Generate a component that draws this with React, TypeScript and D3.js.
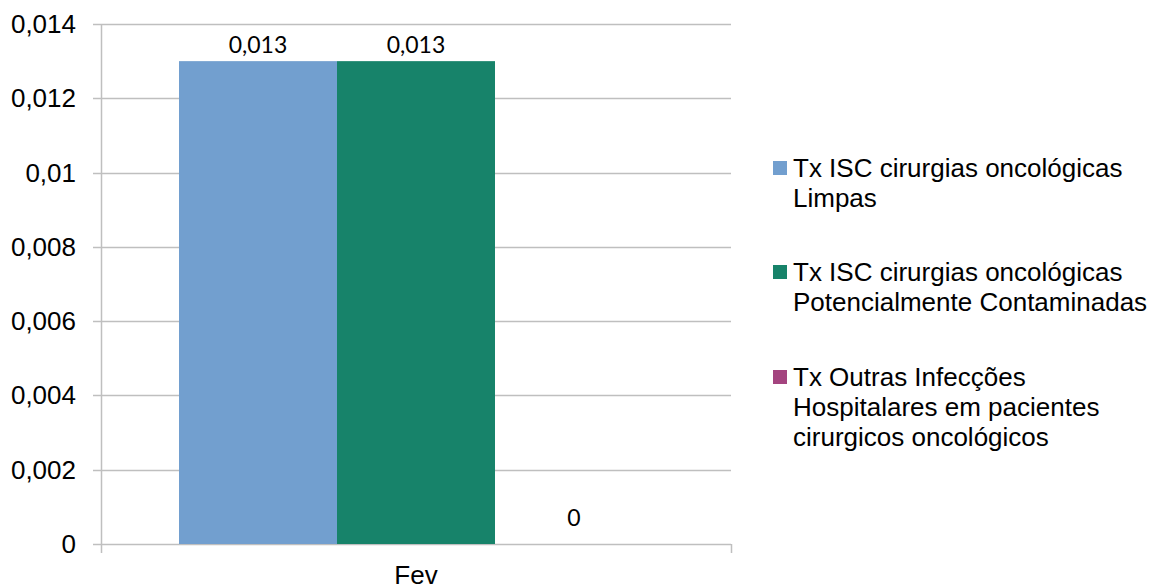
import React from "react";
import * as d3 from "d3";

const categories = ["Fev"];
const seriesNames = [
  ["Tx ISC cirurgias oncológicas", "Limpas"],
  ["Tx ISC cirurgias oncológicas", "Potencialmente Contaminadas"],
  ["Tx Outras Infecções", "Hospitalares em pacientes", "cirurgicos oncológicos"],
];
const seriesValues = [0.013, 0.013, 0];
const seriesLabels = ["0,013", "0,013", "0"];
const colors = ["#729fcf", "#17836a", "#a4447f"];
const yTicks = [0, 0.002, 0.004, 0.006, 0.008, 0.01, 0.012, 0.014];

const W = 1161, H = 586;
const left = 101, right = 731, top = 24, bottom = 544;

export default function App() {
  const y = d3.scaleLinear().domain([0, 0.014]).range([bottom, top]);
  const x0 = d3.scaleBand().domain(categories).range([left, right]).paddingInner(0).paddingOuter(0);
  const bandInner = 474;
  const x1 = d3.scaleBand().domain(["0", "1", "2"]).range([0, bandInner]);
  const fmt = (v: number) => (v === 0 ? "0" : String(v).replace(".", ","));
  const font = "'Liberation Sans', Arial, sans-serif";
  const fs = 26;
  return (
    <svg width={W} height={H} style={{ position: "absolute", left: 0, top: 0 }}>
      <rect width={W} height={H} fill="#fff" />
      {yTicks.map((t) => (
        <g key={t}>
          <line x1={93} x2={right} y1={Math.round(y(t)) + 0.5} y2={Math.round(y(t)) + 0.5} stroke="#bfbfbf" strokeWidth={1.5} />
          <text x={76} y={y(t) + 9} textAnchor="end" fontFamily={font} fontSize={fs} fill="#000">
            {fmt(t)}
          </text>
        </g>
      ))}
      <line x1={left + 0.5} x2={left + 0.5} y1={top} y2={553} stroke="#bfbfbf" strokeWidth={1.5} />
      <line x1={right + 0.5} x2={right + 0.5} y1={bottom} y2={553} stroke="#bfbfbf" strokeWidth={1.5} />
      {categories.map((c) => {
        const bx = x0(c)! + (x0.bandwidth() - bandInner) / 2;
        return (
          <g key={c}>
            {seriesValues.map((v, i) => {
              const xx = bx + x1(String(i))!;
              return (
                <g key={i}>
                  <rect x={xx} y={y(v)} width={x1.bandwidth()} height={bottom - y(v)} fill={colors[i]} />
                  <text
                    x={xx + x1.bandwidth() / 2}
                    y={y(v) - (v === 0 ? 18 : 8)}
                    textAnchor="middle"
                    fontFamily="Lato, 'Open Sans', sans-serif"
                    fontSize={23}
                    fill="#000"
                  >
                    {seriesLabels[i]}
                  </text>
                </g>
              );
            })}
            <text x={x0(c)! + x0.bandwidth() / 2} y={584} textAnchor="middle" fontFamily={font} fontSize={fs} fill="#000">
              {c}
            </text>
          </g>
        );
      })}
      {seriesNames.map((lines, i) => {
        const starts = [168, 272, 377];
        const cy = starts[i];
        return (
          <g key={i}>
            <rect x={773} y={cy - 7} width={14} height={14} fill={colors[i]} />
            {lines.map((l, j) => (
              <text key={j} x={793} y={cy + 9 + j * 30} fontFamily={font} fontSize={fs} fill="#000">
                {l}
              </text>
            ))}
          </g>
        );
      })}
    </svg>
  );
}
